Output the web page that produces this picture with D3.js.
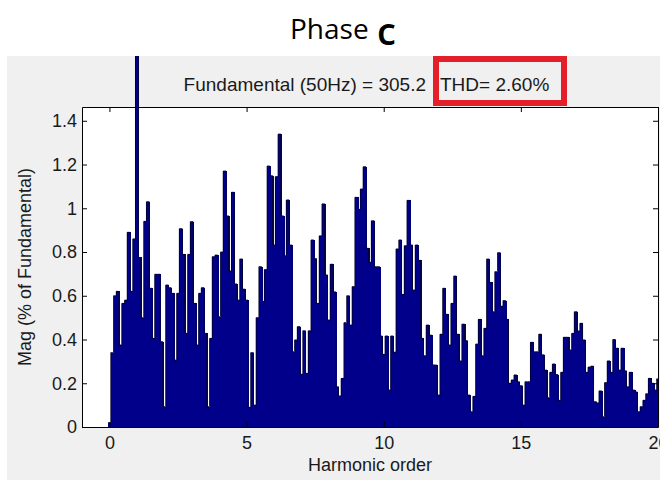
<!DOCTYPE html>
<html>
<head>
<meta charset="utf-8">
<script src="https://cdn.jsdelivr.net/npm/d3@7"></script>
<style>
  html, body { margin: 0; padding: 0; background: #ffffff; }
  svg { display: block; }
</style>
</head>
<body>
<svg id="chart" width="660" height="480"></svg>
<script>
// ---------- data ----------
const titleMain = "Phase";
const titleLetter = "c";
const fundamentalText = "Fundamental (50Hz) = 305.2";
const thdText = "THD= 2.60%";
const xLabel = "Harmonic order";
const yLabel = "Mag (% of Fundamental)";

const binStep = 0.1;          // harmonic resolution (5 Hz)

// magnitude (% of fundamental) of each 0.1-harmonic bin, from order 0 to 20
const magnitudes = [
  0.02, 0.34, 0.60, 0.62, 0.375, 0.565, 0.58, 0.89, 0.62, 0.86,
  100,  0.775, 0.50, 0.94, 1.03, 0.634, 0.405, 0.698, 0.698, 0.39,
  0.093, 0.649, 0.637, 0.611, 0.306, 0.611, 0.907, 0.789, 0.428, 0.789,
  0.939, 0.565, 0.375, 0.611, 0.637, 0.428, 0.093, 0.405, 0.779, 0.786,
  0.504, 0.80, 1.17, 0.965, 0.713, 1.073, 0.654, 0.58, 0.768, 0.63,
  0.58, 0.09, 0.34, 0.10, 0.50, 0.733, 0.574, 0.72, 1.193, 1.149,
  0.832, 1.145, 1.339, 0.965, 0.783, 1.038, 0.832, 0.344, 0.398, 0.459,
  0.241, 0.44, 0.245, 0.44, 0.855, 0.77, 0.565, 0.874, 1.02, 0.695,
  0.489, 0.744, 0.618, 0.184, 0.142, 0.222, 0.477, 0.60, 0.466, 0.642,
  1.05, 0.995, 1.088, 1.19, 0.817, 0.753, 0.943, 0.733, 0.733, 0.416,
  0.332, 0.416, 0.169, 0.416, 0.342, 0.814, 0.855, 0.606, 0.829, 1.036,
  0.832, 0.626, 0.832, 0.762, 0.405, 0.326, 0.466, 0.42, 0.284, 0.283,
  0.146, 0.424, 0.634, 0.515, 0.375, 0.565, 0.69, 0.424, 0.302, 0.47,
  0.395, 0.146, 0.07, 0.14, 0.379, 0.492, 0.326, 0.451, 0.768, 0.661,
  0.527, 0.71, 0.797, 0.552, 0.578, 0.492, 0.20, 0.215, 0.238, 0.207,
  0.189, 0.10, 0.207, 0.207, 0.387, 0.344, 0.344, 0.424, 0.33, 0.26,
  0.134, 0.25, 0.288, 0.24, 0.122, 0.25, 0.41, 0.41, 0.352, 0.428,
  0.527, 0.439, 0.474, 0.398, 0.25, 0.274, 0.278, 0.116, 0.11, 0.165,
  0.047, 0.203, 0.302, 0.25, 0.40, 0.36, 0.26, 0.36, 0.257, 0.184,
  0.25, 0.169, 0.16, 0.07, 0.093, 0.122, 0.152, 0.222, 0.20, 0.169,
  0.22
];
const harmonicOrders = magnitudes.map((_, i) => +(i * binStep).toFixed(1));

const xTicks = [0, 5, 10, 15, 20];
const yTicks = [0, 0.2, 0.4, 0.6, 0.8, 1, 1.2, 1.4];
const yTickLabels = ["0", "0.2", "0.4", "0.6", "0.8", "1", "1.2", "1.4"];
const xDomain = [-1, 20];
const yDomain = [0, 1.463];

// ---------- drawing ----------
const svg = d3.select("#chart");
const W = 660, H = 480;
const plot = { left: 82, right: 658, top: 107, bottom: 427 };
const font = "'Liberation Sans', Arial, Helvetica, sans-serif";

svg.append("rect").attr("width", W).attr("height", H).attr("fill", "#ffffff");
// figure background (grey)
svg.append("rect").attr("x", 7).attr("y", 56).attr("width", W - 7).attr("height", H - 56)
  .attr("fill", "#f0f0f0");
// axes background
svg.append("rect").attr("x", plot.left).attr("y", plot.top)
  .attr("width", plot.right - plot.left).attr("height", plot.bottom - plot.top)
  .attr("fill", "#ffffff");

const x = d3.scaleLinear().domain(xDomain).range([plot.left, plot.right]);
const y = d3.scaleLinear().domain(yDomain).range([plot.bottom, plot.top]);

svg.append("defs").append("clipPath").attr("id", "clip")
  .append("rect").attr("x", plot.left).attr("y", 56)
  .attr("width", plot.right - plot.left).attr("height", plot.bottom - 56);

const bw = x(binStep) - x(0);
const barData = harmonicOrders.map((h, i) => ({ h, m: magnitudes[i] }));
const gBars = svg.append("g").attr("clip-path", "url(#clip)");
gBars.selectAll("rect").data(barData)
  .join("rect")
  .attr("x", d => x(d.h - binStep / 2))
  .attr("width", bw + 0.9)
  .attr("y", d => y(d.m))
  .attr("height", d => y(0) - y(d.m))
  .attr("fill", "#00008a")
  .attr("shape-rendering", "crispEdges");

// dark bar edges (outline of the bar series)
const outlinePts = barData.map(d => ({ xv: d.h - binStep / 2, m: d.m }));
outlinePts.push({ xv: barData[barData.length - 1].h + binStep / 2, m: barData[barData.length - 1].m });
gBars.append("path")
  .attr("d", d3.line().x(d => x(d.xv)).y(d => y(d.m)).curve(d3.curveStepAfter)(outlinePts))
  .attr("fill", "none").attr("stroke", "#00002e").attr("stroke-width", 0.9);

// axes (ticks pointing inward, MATLAB style)
function styleAxis(g) {
  g.selectAll("path.domain").attr("stroke", "#000").attr("stroke-width", 1);
  g.selectAll(".tick line").attr("stroke", "#000");
  g.selectAll("text").attr("font-family", font).attr("font-size", 18).attr("fill", "#1a1a1a");
}
svg.append("g").attr("transform", `translate(0,${plot.bottom})`)
  .call(d3.axisBottom(x).tickValues(xTicks).tickSizeInner(-5).tickSizeOuter(0).tickPadding(9)
    .tickFormat(d3.format("d")))
  .call(styleAxis);
svg.append("g").attr("transform", `translate(0,${plot.top})`)
  .call(d3.axisTop(x).tickValues(xTicks).tickSizeInner(-5).tickSizeOuter(0).tickFormat(""))
  .call(styleAxis);
svg.append("g").attr("transform", `translate(${plot.left},0)`)
  .call(d3.axisLeft(y).tickValues(yTicks).tickSizeInner(-5).tickSizeOuter(0).tickPadding(5)
    .tickFormat((d, i) => yTickLabels[i]))
  .call(styleAxis);
svg.append("g").attr("transform", `translate(${plot.right},0)`)
  .call(d3.axisRight(y).tickValues(yTicks).tickSizeInner(-5).tickSizeOuter(0).tickFormat(""))
  .call(styleAxis);

// axis labels
svg.append("text").attr("x", (plot.left + plot.right) / 2).attr("y", 471)
  .attr("text-anchor", "middle").attr("font-family", font).attr("font-size", 18)
  .attr("fill", "#1a1a1a").text(xLabel);
svg.append("text")
  .attr("transform", `translate(31,${(plot.top + plot.bottom) / 2}) rotate(-90)`)
  .attr("text-anchor", "middle").attr("font-family", font).attr("font-size", 18)
  .attr("fill", "#1a1a1a").text(yLabel);

// info line
svg.append("text").attr("x", 426).attr("y", 91).attr("text-anchor", "end")
  .attr("font-family", font).attr("font-size", 19).attr("fill", "#1a1a1a")
  .text(fundamentalText);
svg.append("text").attr("x", 440).attr("y", 91)
  .attr("font-family", font).attr("font-size", 19).attr("fill", "#1a1a1a")
  .text(thdText);
svg.append("rect").attr("x", 436).attr("y", 59).attr("width", 128).attr("height", 44)
  .attr("fill", "none").attr("stroke", "#e3202a").attr("stroke-width", 6);

// title
svg.append("text").attr("x", 290).attr("y", 39)
  .attr("font-family", "'Open Sans', 'Noto Sans', sans-serif").attr("font-size", 28)
  .attr("fill", "#000").text(titleMain);
svg.append("text").attr("x", 377).attr("y", 45)
  .attr("font-family", "'Open Sans', 'Noto Sans', sans-serif").attr("font-size", 38)
  .attr("font-weight", 600).attr("fill", "#000").text(titleLetter);
</script>
</body>
</html>
